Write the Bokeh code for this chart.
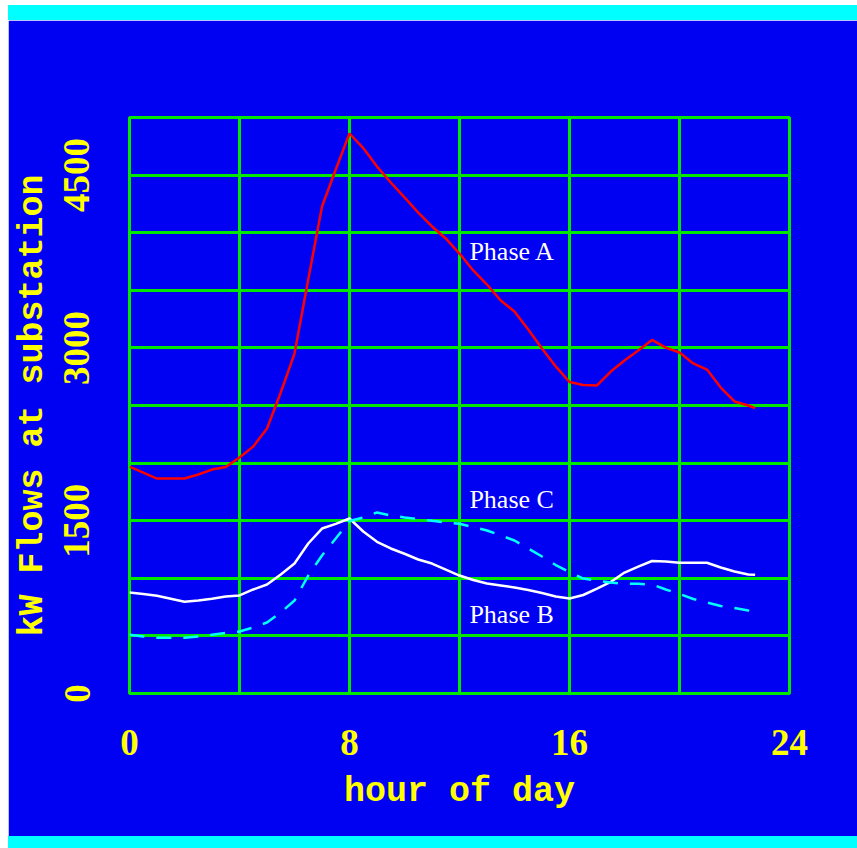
from bokeh.plotting import figure
from bokeh.models import FixedTicker, Div
from bokeh.layouts import column
from bokeh.core.properties import value
from bokeh.embed import file_html
from bokeh.resources import INLINE

# ---- data ----
hours = [0, 0.5, 1, 1.5, 2, 2.5, 3, 3.5, 4, 4.5, 5, 5.5, 6, 6.5, 7, 7.5, 8, 8.5,
         9, 9.5, 10, 10.5, 11, 11.5, 12, 12.5, 13, 13.5, 14, 14.5, 15, 15.5, 16,
         16.5, 17, 17.5, 18, 18.5, 19, 19.5, 20, 20.5, 21, 21.5, 22, 22.5, 22.75]
phase_a = [1970, 1918, 1866, 1866, 1866, 1901, 1944, 1966, 2049, 2144, 2300, 2613,
           2951, 3594, 4227, 4549, 4861, 4735, 4575, 4436, 4306, 4175, 4054, 3950,
           3819, 3672, 3550, 3411, 3316, 3160, 2995, 2839, 2704, 2678, 2674, 2795,
           2891, 2977, 3069, 3003, 2960, 2865, 2812, 2656, 2535, 2500, 2477]
phase_b = [877, 864, 848, 822, 796, 807, 822, 842, 851, 903, 946, 1033, 1128, 1302,
           1432, 1473, 1519, 1406, 1317, 1259, 1213, 1163, 1128, 1076, 1024, 985,
           955, 938, 920, 898, 872, 842, 825, 855, 911, 968, 1050, 1102, 1150, 1146,
           1135, 1135, 1135, 1094, 1059, 1033, 1030]
phase_c = [510, 495, 484, 484, 484, 495, 510, 525, 538, 573, 616, 703, 807, 1024,
           1198, 1345, 1497, 1528, 1571, 1545, 1528, 1515, 1499, 1484, 1473, 1445,
           1415, 1372, 1328, 1259, 1189, 1115, 1055, 998, 978, 964, 952, 952, 946,
           903, 864, 820, 790, 760, 742, 720, 694]
x_ticks = [0, 8, 16, 24]
y_ticks = [0, 1500, 3000, 4500]
x_grid = [0, 4, 8, 12, 16, 20, 24]
y_grid = [0, 500, 1000, 1500, 2000, 2500, 3000, 3500, 4000, 4500, 5000]
label_names = ["Phase A", "Phase C", "Phase B"]
label_x = [12.36, 12.36, 12.36]
label_y = [3840, 1680, 690]

BLUE = "#0000F2"
GREEN = "#00E800"
YELLOW = "#FFFF00"
CYAN = "#00FFFF"

W = 849

p = figure(width=W, height=816, x_range=(0, 24), y_range=(0, 5000),
           output_backend="svg", toolbar_location=None,
           min_border_left=121, min_border_right=68,
           min_border_top=97, min_border_bottom=143,
           margin=(0, 0, 0, 8))
p.background_fill_color = BLUE
p.border_fill_color = BLUE
p.outline_line_color = GREEN
p.outline_line_width = 3

p.xgrid.ticker = FixedTicker(ticks=x_grid)
p.ygrid.ticker = FixedTicker(ticks=y_grid)
for g in (p.xgrid, p.ygrid):
    g.grid_line_color = GREEN
    g.grid_line_width = 3

p.xaxis.ticker = FixedTicker(ticks=x_ticks)
p.yaxis.ticker = FixedTicker(ticks=y_ticks)
for ax in (p.xaxis, p.yaxis):
    ax.axis_line_color = None
    ax.major_tick_line_color = None
    ax.minor_tick_line_color = None
    ax.major_tick_out = 0
    ax.major_tick_in = 0
    ax.major_label_text_color = YELLOW
    ax.major_label_text_font = "Liberation Serif"
    ax.major_label_text_font_style = "bold"
    ax.major_label_text_font_size = "37px"
    ax.axis_label_text_color = YELLOW
    ax.axis_label_text_font = "Liberation Mono"
    ax.axis_label_text_font_style = "bold"
    ax.axis_label_text_font_size = "35px"

p.xaxis.axis_label = "hour of day"
p.yaxis.axis_label = "kW Flows at substation"
p.yaxis.major_label_orientation = "vertical"
p.xaxis.major_label_standoff = 36
p.xaxis.axis_label_standoff = 14
p.yaxis.major_label_standoff = 40
p.yaxis.axis_label_standoff = 9

p.line(hours, phase_a, line_color="#FF0000", line_width=2.5)
p.line(hours, phase_b, line_color="#FFFFFF", line_width=2.5)
p.line(hours, phase_c, line_color=CYAN, line_width=2.5, line_dash="15 12")

p.text(x=label_x, y=label_y, text=label_names, text_color="#FFFFFF",
       text_font=value("Liberation Serif"), text_font_size="26px",
       text_align="left", text_baseline="alphabetic")

top_bar = Div(text="", width=W, height=15, margin=(5, 0, 0, 8),
              styles={"background-color": CYAN})
bottom_bar = Div(text="", width=W, height=12, margin=(0, 0, 0, 8),
                 styles={"background-color": CYAN})

layout = column(top_bar, p, bottom_bar, spacing=0)
open("out.html", "w").write(file_html(layout, INLINE))
